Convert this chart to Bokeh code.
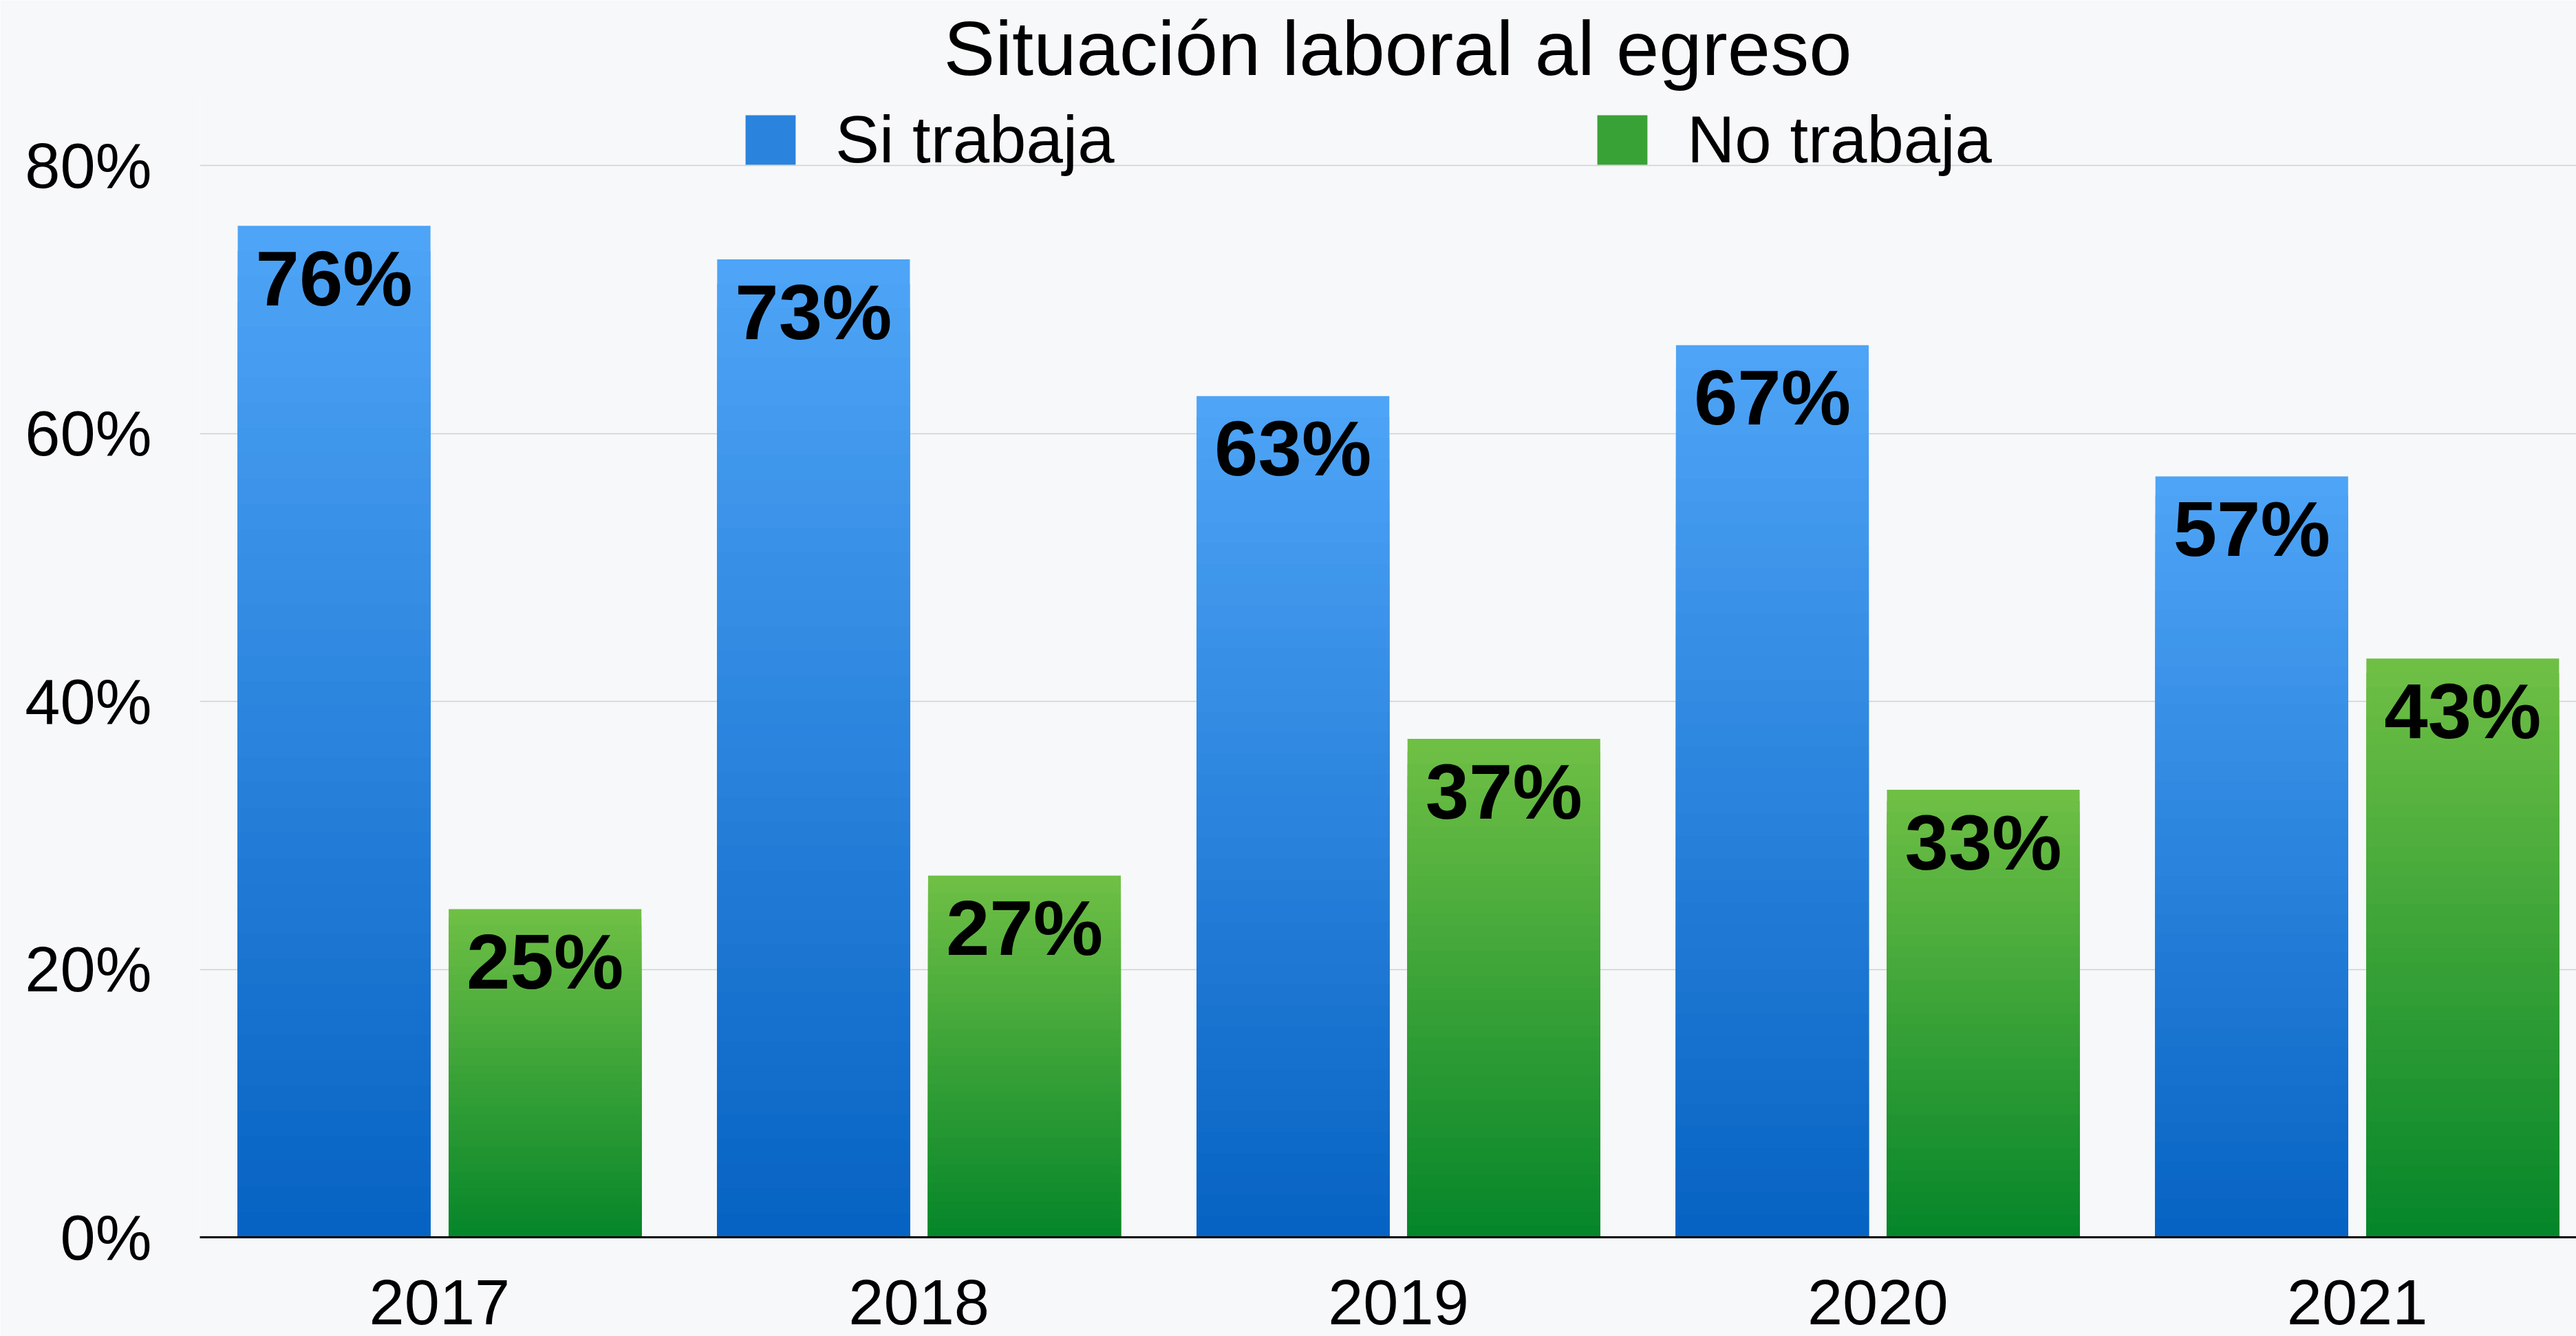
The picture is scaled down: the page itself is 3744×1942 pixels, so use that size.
from bokeh.plotting import figure
from bokeh.models import Range1d, FixedTicker, Legend, LegendItem, PrintfTickFormatter
from bokeh.embed import file_html
from bokeh.resources import INLINE
from bokeh.core.properties import value

# ---------------- data ----------------
title_text = "Situación laboral al egreso"
years = ["2017", "2018", "2019", "2020", "2021"]
si_trabaja = [75.5, 73.0, 62.8, 66.6, 56.8]
no_trabaja = [24.5, 27.0, 37.2, 33.4, 43.2]
series_names = ["Si trabaja", "No trabaja"]
y_ticks = [0, 20, 40, 60, 80]

# ---------------- style ----------------
FONT = "Liberation Sans"
BG = "#f7f8f9"
BLUE_TOP, BLUE_BOT = (79, 165, 247), (6, 98, 194)
GREEN_TOP, GREEN_BOT = (112, 192, 69), (5, 133, 42)
N_LAYERS = 40

W, H = 3744, 1942
p = figure(width=W, height=H, output_backend="svg", toolbar_location=None,
           x_range=Range1d(0, 4.957), y_range=Range1d(0, 85.3),
           min_border_left=290, min_border_right=0, min_border_top=0, min_border_bottom=144,
           background_fill_color=BG, border_fill_color=BG, outline_line_color=None)

p.title.text = title_text
p.title.text_font = FONT
p.title.text_font_size = "112px"
p.title.text_font_style = "normal"
p.title.text_color = "black"
p.title.align = "left"
p.title.offset = 1081

centers = [i + 0.5 for i in range(len(years))]
bx = [c - 0.22 for c in centers]
gx = [c + 0.22 for c in centers]
BW = 0.402


def mix(a, b, t):
    return "#%02x%02x%02x" % tuple(int(round(a[k] + (b[k] - a[k]) * t)) for k in range(3))


def gradient_bars(xs, vals, top_c, bot_c):
    rs = []
    for j in range(N_LAYERS):
        frac = (N_LAYERS - j) / N_LAYERS
        t = (j + 0.5) / N_LAYERS
        r = p.vbar(x=xs, top=[v * frac for v in vals], bottom=0, width=BW,
                   fill_color=mix(top_c, bot_c, t), line_color=None)
        rs.append(r)
    return rs


rb = gradient_bars(bx, si_trabaja, BLUE_TOP, BLUE_BOT)
rg = gradient_bars(gx, no_trabaja, GREEN_TOP, GREEN_BOT)

# value labels
for xs, vals in ((bx, si_trabaja), (gx, no_trabaja)):
    p.text(x=xs, y=vals, text=["%d%%" % int(v + 0.5) for v in vals],
           text_align="center", text_baseline="alphabetic", y_offset=76,
           text_font=value(FONT), text_font_style="bold", text_font_size="114px",
           text_color="black")

# axes
p.yaxis.ticker = FixedTicker(ticks=y_ticks)
p.yaxis.formatter = PrintfTickFormatter(format="%d%%")
p.yaxis.axis_line_color = None
p.yaxis.major_tick_line_color = None
p.yaxis.minor_tick_line_color = None
p.yaxis.major_label_standoff = 64
p.yaxis.major_label_text_font = FONT
p.yaxis.major_label_text_font_size = "92px"
p.yaxis.major_label_text_color = "black"

p.xaxis.ticker = FixedTicker(ticks=centers)
p.xaxis.major_label_overrides = {c: y for c, y in zip(centers, years)}
p.xaxis.axis_line_color = "black"
p.xaxis.axis_line_width = 3
p.xaxis.major_tick_line_color = None
p.xaxis.minor_tick_line_color = None
p.xaxis.major_label_standoff = 56
p.xaxis.major_label_text_font = FONT
p.xaxis.major_label_text_font_size = "92px"
p.xaxis.major_label_text_color = "black"

p.xgrid.grid_line_color = None
p.ygrid.ticker = FixedTicker(ticks=y_ticks)
p.ygrid.grid_line_color = "#d0d0d0"
p.ygrid.grid_line_width = 1.5

legend = Legend(items=[LegendItem(label=series_names[0], renderers=[rb[N_LAYERS // 2]]),
                       LegendItem(label=series_names[1], renderers=[rg[N_LAYERS // 2]])],
                orientation="horizontal", location=(784, 1540),
                glyph_width=91, glyph_height=90, label_standoff=49,
                label_width=600, spacing=498, padding=0, margin=0,
                border_line_color=None, background_fill_alpha=0,
                label_text_font=FONT, label_text_font_size="96px", label_text_color="black")
p.add_layout(legend)

open("out.html", "w").write(file_html(p, INLINE))
